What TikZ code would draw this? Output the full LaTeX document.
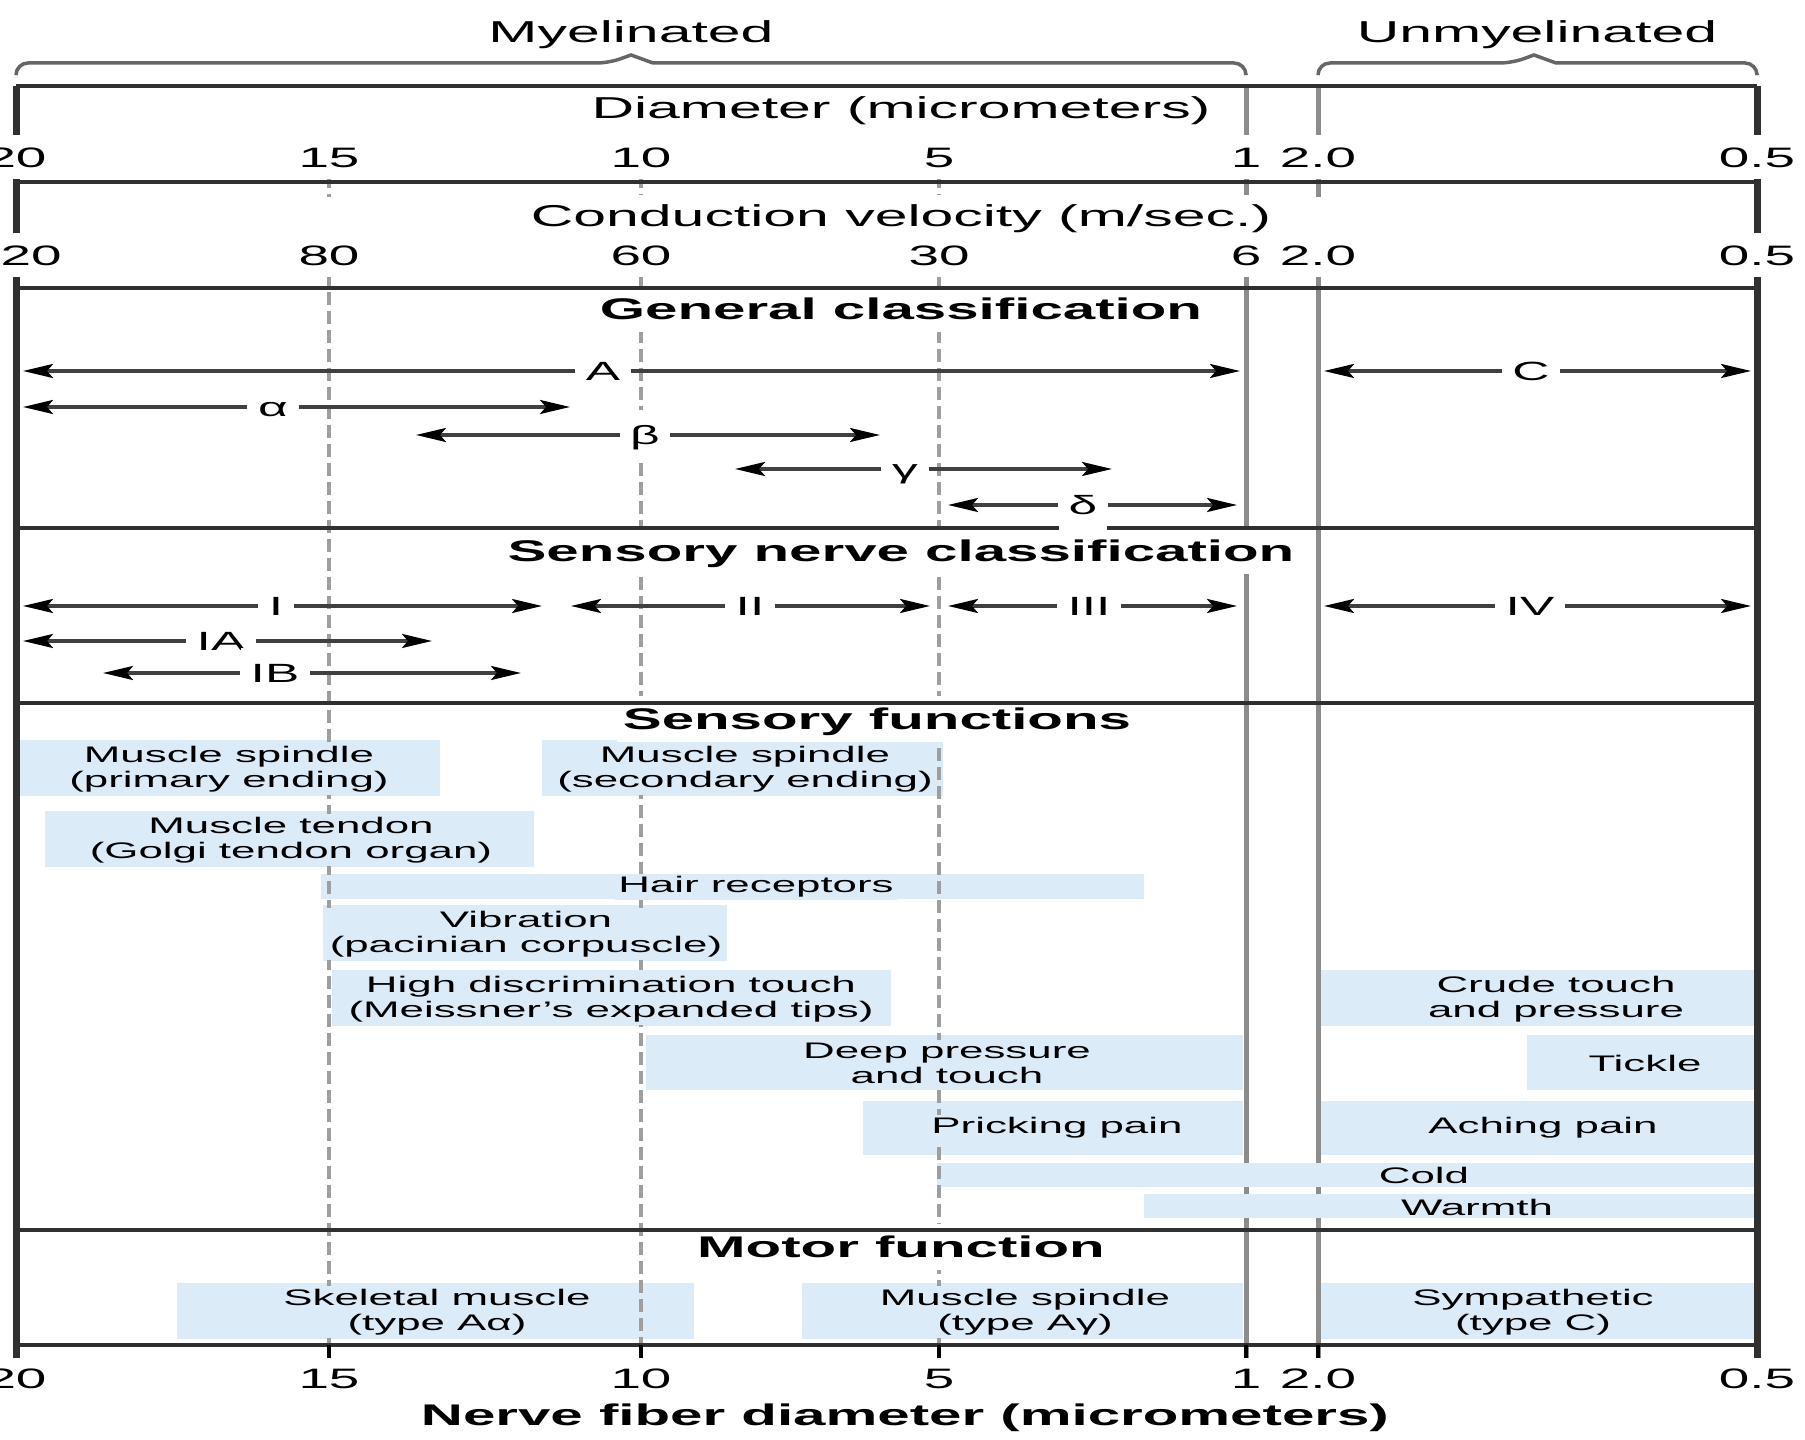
\documentclass[tikz,border=0pt]{standalone}
\usepackage{fontspec}
\setmainfont{Liberation Sans}[FakeStretch=1.95]
\usetikzlibrary{arrows.meta}
\definecolor{fnblue}{HTML}{DCEBF8}
\definecolor{rule}{HTML}{303030}

\begin{document}
\begin{tikzpicture}[x=0.1mm,y=-0.1mm,
  frame/.style={line width=0.45mm,draw=rule},
  sepline/.style={line width=0.5mm,draw=black!45},
  guide/.style={line width=0.4mm,draw=black!38,dash pattern=on 1.3mm off 0.6mm},
  brace/.style={line width=0.35mm,draw=black!60},
  arr/.style={line width=0.32mm,draw=black!75,-{Stealth[length=3mm,width=1.4mm,inset=0.6mm,color=black]}},
  albl/.style={fill=white,inner sep=1mm,text height=7pt,text depth=1.63pt,font=\fontsize{7.5}{8}\selectfont},
  hdr/.style={fill=white,inner sep=0.4mm,text height=8pt,text depth=1.84pt,font=\fontsize{8.6}{10}\selectfont},
  num/.style={fill=white,inner sep=0.6mm,text height=7.44pt,text depth=1.71pt,font=\fontsize{8}{9}\selectfont},
  ttl/.style={fill=white,inner sep=0.6mm,text height=7.9pt,text depth=1.81pt,font=\fontsize{8.5}{9}\bfseries\selectfont},
  fntext/.style={fill=fnblue,inner sep=0.3mm,align=center,font=\fontsize{6.4}{7.1}\selectfont}]
  \useasboundingbox (0,0) rectangle (1805,1440);
  \clip (0,0) rectangle (1805,1440);

  % braces on top
  \draw[brace] (16,74) [rounded corners=1.2mm] |- (609,63) [sharp corners] -- (631,55) -- (653,63) [rounded corners=1.2mm] -| (1246,74);
  \draw[brace] (1318,74) [rounded corners=1.2mm] |- (1512,63) [sharp corners] -- (1534,55) -- (1556,63) [rounded corners=1.2mm] -| (1757,74);
  \node[hdr,fill=none] (myel) at (631,32) {Myelinated};
  \node[hdr,fill=none] (unmyel) at (1537,32) {Unmyelinated};

  % limits of myelinated / unmyelinated
  \foreach \x in {1246,1318}
    \draw[sepline] (\x,86) -- (\x,140) (\x,175) -- (\x,197) (\x,273) -- (\x,1358);

  % function bars
  \foreach \xa/\xb/\ya/\yb in {17/440/740/796, 542/943/740/796, 45/534/811/867,
      321/1144/874/899, 323/727/905/961, 332/891/970/1026, 1321/1757/970/1026,
      646/1243/1035/1090, 1527/1757/1035/1090, 863/1243/1101/1155, 1321/1757/1101/1155,
      937/1757/1163/1187, 1144/1757/1194/1218,
      177/694/1283/1339, 802/1243/1283/1339, 1321/1757/1283/1339}
    \fill[fnblue] (\xa,\ya) rectangle (\xb,\yb);

  % 15, 10 and 5 micrometer guides
  \foreach \x in {329,641,939}
    \draw[guide] (\x,175) -- (\x,197) (\x,273) -- (\x,1345);

  % section titles
  \node[ttl] (gen) at (901,309) {General classification};
  \node[ttl] (sens) at (901,551) {Sensory nerve classification};
  \node[ttl] (sfun) at (877,719) {Sensory functions};
  \node[ttl] (mot) at (901,1247) {Motor function};

  % table frame
  \draw[frame,line width=0.7mm] (16,1358) -- (16,86) (1757,86) -- (1757,1358);
  \foreach \y in {182,288,528,703,1230,1345}
    \draw[frame] (16,\y) -- (1757,\y);
  \foreach \x in {329,641,939,1246,1318}
    \draw[frame,draw=black] (\x,1345) -- (\x,1358);

  % scales
  \node[hdr] (diam) at (901,108) {Diameter (micrometers)};
  \node[hdr] (vel) at (901,216) {Conduction velocity (m/sec.)};
  \foreach \x/\d/\v [count=\i] in {16/20/120, 329/15/80, 641/10/60, 939/5/30, 1246/1/6, 1318/2.0/2.0, 1757/0.5/0.5} {
    \node[num] (dia\i) at (\x,157) {\d};
    \node[num] (velo\i) at (\x,255) {\v};
    \node[num,fill=none] (bot\i) at (\x,1378) {\d};
  }
  \draw[frame] (16,86) -- (1757,86);
  \node[ttl,fill=none] (axis) at (905,1415) {Nerve fiber diameter (micrometers)};

  % fiber ranges
  \foreach \nm/\xa/\xl/\xb/\y/\t in {
      A/23/603/1240/371/A, alpha/23/273/570/407/α, beta/416/645/880/435/β,
      gamma/735/905/1112/469/γ, delta/948/1083/1237/505/δ, C/1324/1531/1751/371/C,
      I/23/276/542/606/I, II/571/750/930/606/II, III/948/1089/1237/606/III,
      IV/1324/1530/1751/606/IV, IA/23/221/432/641/IA, IB/103/275/521/673/IB} {
    \node[albl] (\nm) at (\xl,\y) {\t};
    \draw[arr] (\nm) -- (\xa,\y);
    \draw[arr] (\nm) -- (\xb,\y);
  }

  % function labels
  \foreach \xt/\yt/\t [count=\i] in {
      229/769/{Muscle spindle\\(primary ending)},
      745/769/{Muscle spindle\\(secondary ending)},
      291/840/{Muscle tendon\\(Golgi tendon organ)},
      756/887/{Hair receptors},
      526/934/{Vibration\\(pacinian corpuscle)},
      611/999/{High discrimination touch\\(Meissner's expanded tips)},
      1556/999/{Crude touch\\and pressure},
      947/1063/{Deep pressure\\and touch},
      1645/1063/{Tickle},
      1057/1128/{Pricking pain},
      1543/1128/{Aching pain},
      1424/1175/{Cold},
      1477/1207/{Warmth},
      437/1312/{Skeletal muscle\\(type Aα)},
      1025/1312/{Muscle spindle\\(type Aγ)},
      1533/1312/{Sympathetic\\(type C)}}
    \node[fntext] (fn\i) at (\xt,\yt) {\t};
\end{tikzpicture}
\end{document}
